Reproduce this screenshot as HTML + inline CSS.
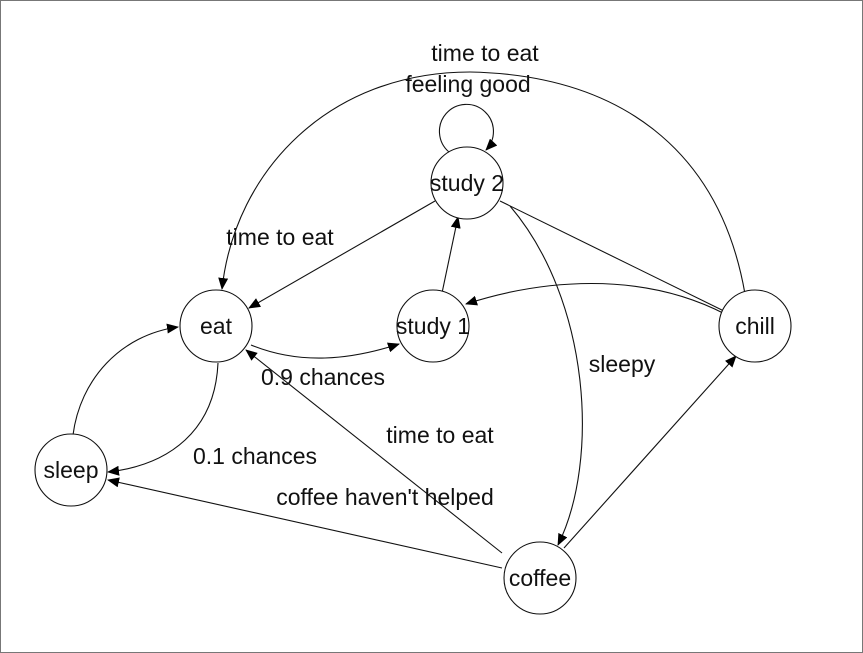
<!DOCTYPE html>
<html><head><style>
html,body{margin:0;padding:0;background:#fff}
svg{display:block}
text{font-family:"Liberation Sans",sans-serif;font-size:23px;fill:#111}
</style></head><body>
<svg width="863" height="653" viewBox="0 0 863 653">
<defs><marker id="a" markerWidth="12" markerHeight="10" refX="11" refY="5" orient="auto" markerUnits="userSpaceOnUse"><path d="M0,0 L12,5 L0,10 z" fill="#000"/></marker></defs>
<rect x="0.5" y="0.5" width="862" height="652" fill="#fff" stroke="#777"/>
<g fill="none" stroke="#111" stroke-width="1.1">
<path d="M449,152 A27,27 0 1 1 486,150" marker-end="url(#a)"/>
<path d="M745,294 C720,150 620,75 470,72 C330,72 235,170 222,289" marker-end="url(#a)"/>
<path d="M435,201 L249,308" marker-end="url(#a)"/>
<path d="M500,201 L728,313"/>
<path d="M510,206 C590,300 600,460 558,545" marker-end="url(#a)"/>
<path d="M442,293 L458,217" marker-end="url(#a)"/>
<path d="M725,314 C640,270 540,280 466,304" marker-end="url(#a)"/>
<path d="M251,345 C300,365 350,360 399,344" marker-end="url(#a)"/>
<path d="M218,363 C215,430 170,465 108,472" marker-end="url(#a)"/>
<path d="M73,435 C80,380 120,335 178,327" marker-end="url(#a)"/>
<path d="M502,568 L108,480" marker-end="url(#a)"/>
<path d="M502,553 L246,350" marker-end="url(#a)"/>
<path d="M564,548 L736,356" marker-end="url(#a)"/>
</g>
<g fill="#fff" stroke="#111" stroke-width="1.1">
<circle cx="467" cy="183" r="36"/>
<circle cx="216" cy="326" r="36"/>
<circle cx="433" cy="326" r="36"/>
<circle cx="755" cy="326" r="36"/>
<circle cx="71" cy="470" r="36"/>
<circle cx="540" cy="578" r="36"/>
</g>
<g text-anchor="middle">
<text x="467" y="191">study 2</text>
<text x="216" y="334">eat</text>
<text x="433" y="334">study 1</text>
<text x="755" y="334">chill</text>
<text x="71" y="478">sleep</text>
<text x="540" y="586">coffee</text>
<text x="485" y="61">time to eat</text>
<text x="468" y="92">feeling good</text>
<text x="280" y="245">time to eat</text>
<text x="323" y="385">0.9 chances</text>
<text x="622" y="372">sleepy</text>
<text x="440" y="443">time to eat</text>
<text x="255" y="464">0.1 chances</text>
<text x="385" y="505">coffee haven't helped</text>
</g>
</svg>
</body></html>
